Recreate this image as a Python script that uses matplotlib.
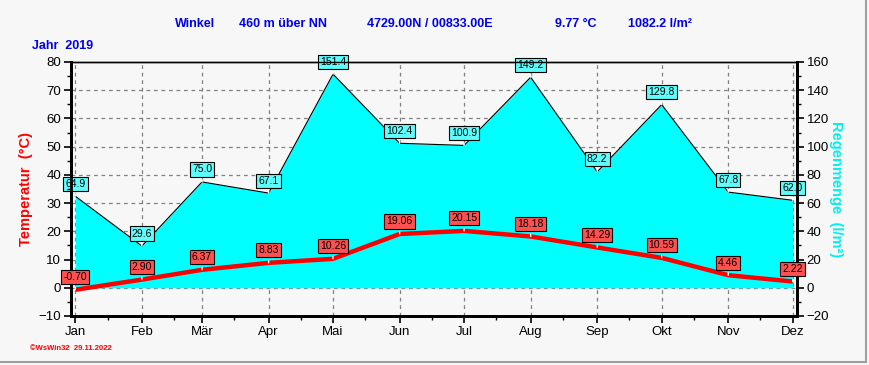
import matplotlib.pyplot as plt
from matplotlib.lines import Line2D
from matplotlib.ticker import MultipleLocator

plt.rcParams['font.family'] = ['Liberation Sans', 'DejaVu Sans']

months = ['Jan', 'Feb', 'Mär', 'Apr', 'Mai', 'Jun', 'Jul', 'Aug', 'Sep', 'Okt', 'Nov', 'Dez']
month_day = [0, 31, 59, 90, 120, 151, 181, 212, 243, 273, 304, 334]
temp = [-0.70, 2.90, 6.37, 8.83, 10.26, 19.06, 20.15, 18.18, 14.29, 10.59, 4.46, 2.22]
rain = [64.9, 29.6, 75.0, 67.1, 151.4, 102.4, 100.9, 149.2, 82.2, 129.8, 67.8, 62.0]

bg = '#f7f7f7'
fig = plt.figure(figsize=(8.69, 3.65), dpi=100, facecolor=bg)
ax = fig.add_axes([71 / 869, 1 - 316 / 365, 726 / 869, 254 / 365])
ax2 = ax.twinx()

# rain on the secondary axis, drawn below the temperature line
ax.set_zorder(2)
ax.patch.set_visible(False)
ax2.set_zorder(1)
ax2.set_facecolor(bg)
ax2.fill_between(month_day, 0, rain, color='#00ffff', lw=0, zorder=1)
ax2.plot(month_day, rain, color='black', lw=0.8, zorder=2)
ax2.set_ylim(-20, 160)
ax2.yaxis.set_major_locator(MultipleLocator(20))
ax2.yaxis.set_minor_locator(MultipleLocator(10))

ax.plot(month_day, temp, color='#ff0000', lw=3.2, zorder=3, solid_capstyle='butt')
ax.set_ylim(-10, 80)
ax.set_xlim(-2, 336)
ax.yaxis.set_major_locator(MultipleLocator(10))
ax.yaxis.set_minor_locator(MultipleLocator(5))
ax.set_xticks(month_day)
ax.set_xticklabels(months)
ax.set_xticks([d + 15 for d in month_day[:-1]], minor=True)

for y in range(0, 80, 10):
    ax2.axhline(y * 2, color='gray', ls=(0, (3, 3)), lw=0.9, zorder=0.5)
for d in month_day:
    ax2.axvline(d, color='gray', ls=(0, (3, 3)), lw=0.9, zorder=0.5)

for a in (ax, ax2):
    for s in a.spines.values():
        s.set_linewidth(2)
    a.spines['top'].set_linewidth(1)
    a.tick_params(which='major', length=5, width=1.2, labelsize=9.5, direction='out', pad=2)
    a.tick_params(which='minor', length=3, width=1)

# value labels
for d, r in zip(month_day, rain):
    ax2.annotate(f'{r:.1f}', (d, r), xytext=(0, 9), textcoords='offset points',
                 ha='center', va='center', fontsize=7.5, zorder=6,
                 bbox=dict(boxstyle='square,pad=0.2', fc='#5ffcfc', ec='black', lw=0.8),
                 arrowprops=dict(arrowstyle='-', color='white', lw=1))
for d, t in zip(month_day, temp):
    ax.annotate(f'{t:.2f}', (d, t), xytext=(0, 9), textcoords='offset points',
                ha='center', va='center', fontsize=7.5, zorder=6,
                bbox=dict(boxstyle='square,pad=0.2', fc='#ff5050', ec='black', lw=0.8),
                arrowprops=dict(arrowstyle='-', color='white', lw=1))

ax.set_ylabel('Temperatur  (°C)', color='#ff0000', fontsize=10.5, fontweight='bold', labelpad=4)
ax2.set_ylabel('Regenmenge  (l/m²)', color='#00f0f0', fontsize=10.5, fontweight='bold',
               rotation=-90, labelpad=10)

blue = '#0000ee'
ty = 1 - 24 / 365
fig.text(175 / 869, ty, 'Winkel', color=blue, fontsize=9, fontweight='bold', va='center')
fig.text(239 / 869, ty, '460 m über NN', color=blue, fontsize=9, fontweight='bold', va='center')
fig.text(367 / 869, ty, '4729.00N / 00833.00E', color=blue, fontsize=9, fontweight='bold', va='center')
fig.text(555 / 869, ty, '9.77 °C', color=blue, fontsize=9, fontweight='bold', va='center')
fig.text(628 / 869, ty, '1082.2 l/m²', color=blue, fontsize=9, fontweight='bold', va='center')
fig.text(32 / 869, 1 - 46 / 365, 'Jahr  2019', color=blue, fontsize=9, fontweight='bold', va='center')
fig.text(30 / 869, 1 - 348 / 365, '©WsWin32  29.11.2022', color='#ff0000', fontsize=5.5,
         fontweight='bold', va='center')

# gray frame at right and bottom edge
fig.add_artist(Line2D([866 / 869, 866 / 869], [3 / 365, 1], color='#a0a0a0', lw=1.5))
fig.add_artist(Line2D([0, 866 / 869], [3 / 365, 3 / 365], color='#a0a0a0', lw=1.5))

fig.savefig('out.png', dpi=100, facecolor=bg)
